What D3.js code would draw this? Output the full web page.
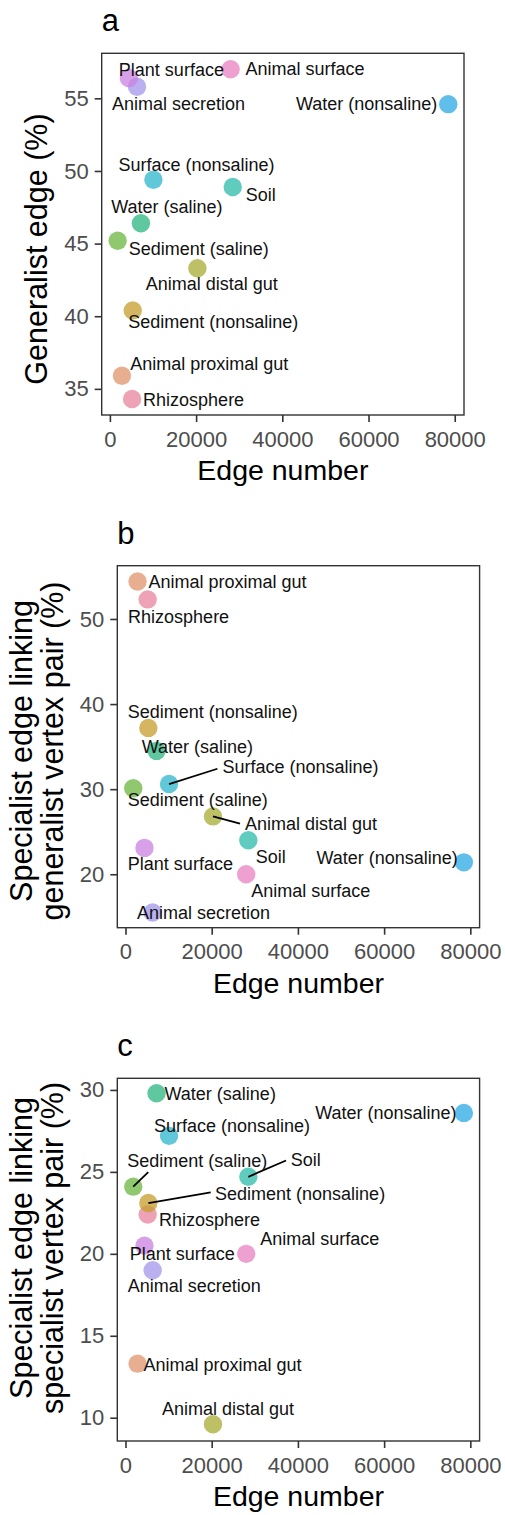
<!DOCTYPE html>
<html>
<head>
<meta charset="utf-8">
<script src="https://cdn.jsdelivr.net/npm/d3@7"></script>
<style>
  body { margin: 0; background: #fff; }
  svg { display: block; font-family: "Liberation Sans", Arial, Helvetica, sans-serif; }
</style>
</head>
<body>
<div id="chart"></div>
<script>
// habitats and their values
var habitats = ["Animal distal gut", "Animal proximal gut", "Animal secretion", "Animal surface",
  "Plant surface", "Rhizosphere", "Sediment (nonsaline)", "Sediment (saline)", "Soil",
  "Surface (nonsaline)", "Water (nonsaline)", "Water (saline)"]
var edgeNumber = [20300, 2800, 6300, 28000, 4400, 5150, 5300, 1800, 28500, 10100, 78500, 7200]
var generalistEdge = [43.3, 35.9, 55.8, 57.0, 56.4, 34.3, 40.4, 45.2, 48.9, 49.4, 54.6, 46.4]
var specGenPair = [26.8, 54.4, 15.5, 20.0, 23.1, 52.3, 37.2, 30.1, 24.0, 30.6, 21.4, 34.5]
var specSpecPair = [9.6, 13.3, 19.0, 20.0, 20.5, 22.4, 23.1, 24.1, 24.7, 27.2, 28.6, 29.8]

var xTicks = [0, 20000, 40000, 60000, 80000]
var yTicksA = [35, 40, 45, 50, 55]
var yTicksB = [20, 30, 40, 50]
var yTicksC = [10, 15, 20, 25, 30]

var colors = {
  "Animal distal gut": "#A8AB33",
  "Animal proximal gut": "#E0936B",
  "Animal secretion": "#A396EB",
  "Animal surface": "#E880C0",
  "Plant surface": "#CB80E0",
  "Rhizosphere": "#E7849C",
  "Sediment (nonsaline)": "#C69E2B",
  "Sediment (saline)": "#6BB640",
  "Soil": "#2BBBAB",
  "Surface (nonsaline)": "#2BB6CB",
  "Water (nonsaline)": "#2BA8E3",
  "Water (saline)": "#2BB680"
}

// label placement (px from the point: dx, dy to baseline, anchor, optional segment end)
var labA = {
  "Plant surface": [-10, -1.7],
  "Animal surface": [15, 6],
  "Animal secretion": [-25, 23.3],
  "Water (nonsaline)": [-11, 5.7, "end"],
  "Surface (nonsaline)": [-35, -8.3],
  "Soil": [13, 14.4],
  "Water (saline)": [-29.7, -10],
  "Sediment (saline)": [11, 14.3],
  "Animal distal gut": [-51.6, 22],
  "Sediment (nonsaline)": [-4.6, 17.3],
  "Animal proximal gut": [8.3, -6],
  "Rhizosphere": [11, 6.7]
}
var labB = {
  "Animal proximal gut": [11, 6.6],
  "Rhizosphere": [-19.6, 24],
  "Sediment (nonsaline)": [-20.6, -9.7],
  "Water (saline)": [-14.8, 2.4],
  "Surface (nonsaline)": [53.4, -11, "start", [48.4, -15.3]],
  "Sediment (saline)": [-5.6, 18],
  "Animal distal gut": [32, 13.3, "start", [27, 7.3]],
  "Soil": [7.3, 22.6],
  "Plant surface": [-16.6, 22.3],
  "Animal surface": [5, 22.4],
  "Water (nonsaline)": [-6, 1.6, "end"],
  "Animal secretion": [-15.6, 6]
}
var labC = {
  "Water (saline)": [8, 6.7],
  "Water (nonsaline)": [-7.3, 5.7, "end"],
  "Surface (nonsaline)": [-15, -4],
  "Sediment (saline)": [-6, -20, "start", [15, -14.6]],
  "Soil": [42.4, -10.6, "start", [37.7, -16.3]],
  "Sediment (nonsaline)": [66.7, -3.3, "start", [62.4, -10.6]],
  "Rhizosphere": [11.3, 11.7],
  "Plant surface": [-14.7, 14.7],
  "Animal surface": [14, -9],
  "Animal secretion": [-25, 21.7],
  "Animal proximal gut": [6, 7.4],
  "Animal distal gut": [-51, -9.7]
}

var panels = [
  { tag: "a", values: generalistEdge, yTicks: yTicksA, yDomain: [33.2, 58.1], labels: labA,
    box: { l: 101.7, t: 53.3, r: 464, b: 415 }, ytitle: ["Generalist edge (%)"], titleX: [46.5], titleY: 249 },
  { tag: "b", values: specGenPair, yTicks: yTicksB, yDomain: [13.72, 56.26], labels: labB,
    box: { l: 117.3, t: 565.7, r: 479.6, b: 927.7 },
    ytitle: ["Specialist edge linking", "generalist vertex pair (%)"], titleX: [32, 62.5], titleY: 751 },
  { tag: "c", values: specSpecPair, yTicks: yTicksC, yDomain: [8.58, 30.71], labels: labC,
    box: { l: 117.3, t: 1078.3, r: 479.6, b: 1441 },
    ytitle: ["Specialist edge linking", "specialist vertex pair (%)"], titleX: [32, 62.5], titleY: 1248 }
]

var svg = d3.select("#chart").append("svg")
  .attr("width", 505)
  .attr("height", 1515)

panels.forEach(function(p) {
  var box = p.box
  var x = d3.scaleLinear().domain([-1900, 82150]).range([box.l, box.r])
  var y = d3.scaleLinear().domain(p.yDomain).range([box.b, box.t])
  var g = svg.append("g").attr("class", "panel-" + p.tag)

  // panel tag
  g.append("text")
    .attr("x", box.l)
    .attr("y", box.t - 22)
    .text(p.tag)
    .style("font-size", "31px")
    .style("fill", "#000")

  // axes
  var gx = g.append("g")
    .attr("transform", `translate(0,${box.b})`)
    .call(d3.axisBottom(x).tickValues(xTicks).tickSize(7).tickPadding(7).tickFormat(d3.format("d")))
  var gy = g.append("g")
    .attr("transform", `translate(${box.l},0)`)
    .call(d3.axisLeft(y).tickValues(p.yTicks).tickSize(7).tickPadding(6))
  ;[gx, gy].forEach(function(ax) {
    ax.select(".domain").remove()
    ax.selectAll(".tick line").attr("stroke", "#333").attr("stroke-width", 1.6)
    ax.selectAll(".tick text")
      .style("font-size", "22px")
      .style("fill", "#4D4D4D")
      .style("font-family", "'Liberation Sans', Arial, sans-serif")
  })
  gx.selectAll(".tick text").attr("dy", null).attr("y", 31.5)

  // panel border
  g.append("rect")
    .attr("x", box.l).attr("y", box.t)
    .attr("width", box.r - box.l).attr("height", box.b - box.t)
    .attr("fill", "none").attr("stroke", "#333").attr("stroke-width", 1.4)

  // axis titles
  g.append("text")
    .attr("x", (box.l + box.r) / 2)
    .attr("y", box.b + 65)
    .attr("text-anchor", "middle")
    .text("Edge number")
    .style("font-size", "28.5px")

  p.ytitle.forEach(function(line, i) {
    g.append("text")
      .attr("transform", `translate(${p.titleX[i]},${p.titleY}) rotate(-90)`)
      .attr("text-anchor", "middle")
      .text(line)
      .style("font-size", "30.5px")
  })

  var pts = habitats.map(function(h, i) {
    return { name: h, px: x(edgeNumber[i]), py: y(p.values[i]), lab: p.labels[h] }
  })

  // points
  g.append("g").selectAll("circle")
    .data(pts)
    .enter()
    .append("circle")
    .attr("cx", d => d.px)
    .attr("cy", d => d.py)
    .attr("r", 9.2)
    .attr("fill", d => colors[d.name])
    .attr("fill-opacity", 0.75)

  // repel segments
  g.append("g").selectAll("line")
    .data(pts.filter(d => d.lab[3]))
    .enter()
    .append("line")
    .attr("x1", d => d.px)
    .attr("y1", d => d.py)
    .attr("x2", d => d.px + d.lab[3][0])
    .attr("y2", d => d.py + d.lab[3][1])
    .attr("stroke", "#000")
    .attr("stroke-width", 1.8)

  // labels
  g.append("g").selectAll("text")
    .data(pts)
    .enter()
    .append("text")
    .attr("x", d => d.px + d.lab[0])
    .attr("y", d => d.py + d.lab[1])
    .attr("text-anchor", d => d.lab[2] || "start")
    .text(d => d.name)
    .style("font-size", "18px")
    .style("fill", "#111")
})
</script>
</body>
</html>
